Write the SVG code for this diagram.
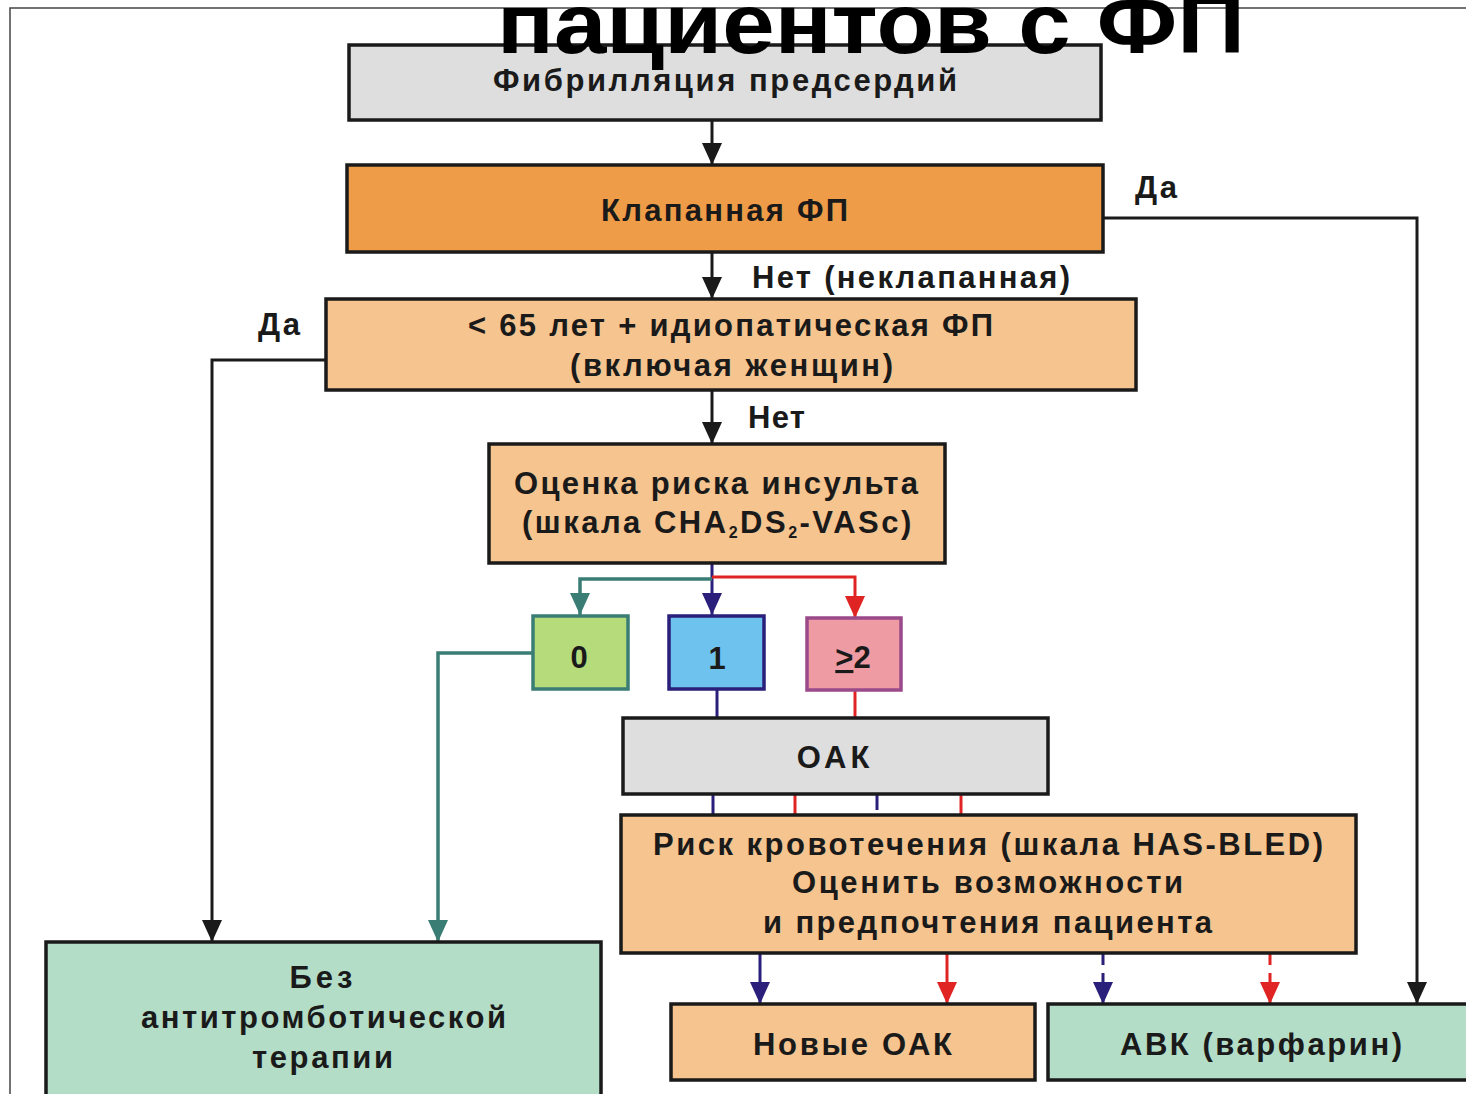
<svg xmlns="http://www.w3.org/2000/svg" width="1466" height="1094" viewBox="0 0 1466 1094">
<defs>
<style>
.bx{stroke:#1a1a1a;stroke-width:3.5}
.gray{fill:#DEDEDE}
.org{fill:#EF9C48}
.lo{fill:#F5C48F}
.mint{fill:#B4DDC8}
.t{font-family:"Liberation Sans Narrow","Liberation Sans",Arial,sans-serif;font-weight:bold;font-size:31px;fill:#1a1a1a}
.c{text-anchor:middle}
.k{stroke:#1a1a1a;stroke-width:3;fill:none}
.n{stroke:#2A1F7A;stroke-width:3;fill:none}
.tl{stroke:#3A7D74;stroke-width:3.5;fill:none}
.r{stroke:#E02424;stroke-width:3;fill:none}
.d{stroke-dasharray:12 8}
</style>
<marker id="ak" markerUnits="userSpaceOnUse" viewBox="0 0 22 20" markerWidth="22" markerHeight="20" refX="22" refY="10" orient="auto"><path d="M0,0 L22,10 L0,20 z" fill="#1a1a1a"/></marker>
<marker id="an" markerUnits="userSpaceOnUse" viewBox="0 0 22 20" markerWidth="22" markerHeight="20" refX="22" refY="10" orient="auto"><path d="M0,0 L22,10 L0,20 z" fill="#2A1F7A"/></marker>
<marker id="at" markerUnits="userSpaceOnUse" viewBox="0 0 22 20" markerWidth="22" markerHeight="20" refX="22" refY="10" orient="auto"><path d="M0,0 L22,10 L0,20 z" fill="#3A7D74"/></marker>
<marker id="ar" markerUnits="userSpaceOnUse" viewBox="0 0 22 20" markerWidth="22" markerHeight="20" refX="22" refY="10" orient="auto"><path d="M0,0 L22,10 L0,20 z" fill="#E02424"/></marker>
</defs>
<rect width="1466" height="1094" fill="#fff"/>
<path d="M10,1094 V8 H1466" fill="none" stroke="#444" stroke-width="1.5"/>

<g id="connectors">
<path class="k" d="M712,120 V165" marker-end="url(#ak)"/>
<path class="k" d="M712,252 V299" marker-end="url(#ak)"/>
<path class="k" d="M712,390 V444" marker-end="url(#ak)"/>
<path class="k" d="M1103,218 H1417 V1004" marker-end="url(#ak)"/>
<path class="k" d="M326,360 H212 V942" marker-end="url(#ak)"/>
<path class="n" d="M712,563 V615" marker-end="url(#an)"/>
<path class="tl" d="M712,579 H580 V615" marker-end="url(#at)"/>
<path class="r" d="M712,577 H855 V618" marker-end="url(#ar)"/>
<path class="tl" d="M533,653 H438 V942" marker-end="url(#at)"/>
<path class="n" d="M717,689 V718"/>
<path class="r" d="M855,690 V718"/>
<path class="n" d="M713,794 V815"/>
<path class="r" d="M795,794 V815"/>
<path class="n" d="M877,794 V810"/>
<path class="r" d="M961,794 V815"/>
<path class="n" d="M760,953 V1004" marker-end="url(#an)"/>
<path class="r" d="M947,953 V1004" marker-end="url(#ar)"/>
<path class="n d" d="M1103,953 V1004" marker-end="url(#an)"/>
<path class="r d" d="M1270,953 V1004" marker-end="url(#ar)"/>
</g>

<g id="lbl-yes-right"><text class="t" x="1135" y="198" textLength="42" lengthAdjust="spacing">Да</text></g>
<g id="lbl-no-valv"><text class="t" x="752" y="288" textLength="318" lengthAdjust="spacing">Нет (неклапанная)</text></g>
<g id="lbl-yes-left"><text class="t" x="258" y="335" textLength="42" lengthAdjust="spacing">Да</text></g>
<g id="lbl-no"><text class="t" x="748" y="428" textLength="57" lengthAdjust="spacing">Нет</text></g>

<g id="n-af">
<rect class="bx gray" x="349" y="45" width="752" height="75"/>
<text class="t" x="493" y="91" textLength="464" lengthAdjust="spacing">Фибрилляция предсердий</text>
</g>
<g id="n-valv">
<rect class="bx org" x="347" y="165" width="756" height="87"/>
<text class="t" x="601" y="221" textLength="247" lengthAdjust="spacing">Клапанная ФП</text>
</g>
<g id="n-65">
<rect class="bx lo" x="326" y="299" width="810" height="91"/>
<text class="t" x="468" y="336" textLength="525" lengthAdjust="spacing">&lt; 65 лет + идиопатическая ФП</text>
<text class="t" x="570" y="376" textLength="323" lengthAdjust="spacing">(включая женщин)</text>
</g>
<g id="n-stroke">
<rect class="bx lo" x="489" y="444" width="456" height="119"/>
<text class="t" x="514" y="494" textLength="404" lengthAdjust="spacing">Оценка риска инсульта</text>
<text class="t" x="522" y="533" letter-spacing="2.5">(шкала CHA<tspan font-size="16" dy="5">2</tspan><tspan dy="-5">DS</tspan><tspan font-size="16" dy="5">2</tspan><tspan dy="-5">-VASc)</tspan></text>
</g>
<g id="n-0">
<rect x="533" y="616" width="95" height="73" fill="#B5DB7A" stroke="#3A7D74" stroke-width="3.5"/>
<text class="t c" x="579" y="668" font-size="40">0</text>
</g>
<g id="n-1">
<rect x="669" y="616" width="95" height="73" fill="#6EC3EE" stroke="#2A1F7A" stroke-width="3.5"/>
<text class="t c" x="717" y="669" font-size="40">1</text>
</g>
<g id="n-2">
<rect x="807" y="618" width="94" height="72" fill="#EE9BA3" stroke="#9A4A8A" stroke-width="3.5"/>
<text class="t c" x="853" y="668" font-size="40"><tspan text-decoration="underline">&gt;</tspan>2</text>
</g>
<g id="n-oak">
<rect class="bx gray" x="623" y="718" width="425" height="76"/>
<text class="t c" x="835" y="768" letter-spacing="4">ОАК</text>
</g>
<g id="n-bleed">
<rect class="bx lo" x="621" y="815" width="735" height="138"/>
<text class="t" x="653" y="855" textLength="670" lengthAdjust="spacing">Риск кровотечения (шкала HAS-BLED)</text>
<text class="t" x="792" y="893" textLength="391" lengthAdjust="spacing">Оценить возможности</text>
<text class="t" x="763" y="933" textLength="449" lengthAdjust="spacing">и предпочтения пациента</text>
</g>
<g id="n-noac">
<rect class="bx lo" x="671" y="1004" width="364" height="76"/>
<text class="t" x="753" y="1055" textLength="199" lengthAdjust="spacing">Новые ОАК</text>
</g>
<g id="n-vka">
<rect class="bx mint" x="1048" y="1004" width="430" height="76"/>
<text class="t" x="1120" y="1055" textLength="282" lengthAdjust="spacing">АВК (варфарин)</text>
</g>
<g id="n-none">
<rect class="bx mint" x="46" y="942" width="555" height="160"/>
<text class="t c" x="323" y="988" letter-spacing="4">Без</text>
<text class="t" x="141" y="1028" textLength="365" lengthAdjust="spacing">антитромботической</text>
<text class="t" x="252" y="1068" textLength="141" lengthAdjust="spacing">терапии</text>
</g>

<g id="title">
<text x="497" y="53" font-family="'Liberation Sans',Arial,sans-serif" font-weight="bold" font-size="86" fill="#000" textLength="748" lengthAdjust="spacingAndGlyphs">пациентов с ФП</text>
</g>
</svg>
